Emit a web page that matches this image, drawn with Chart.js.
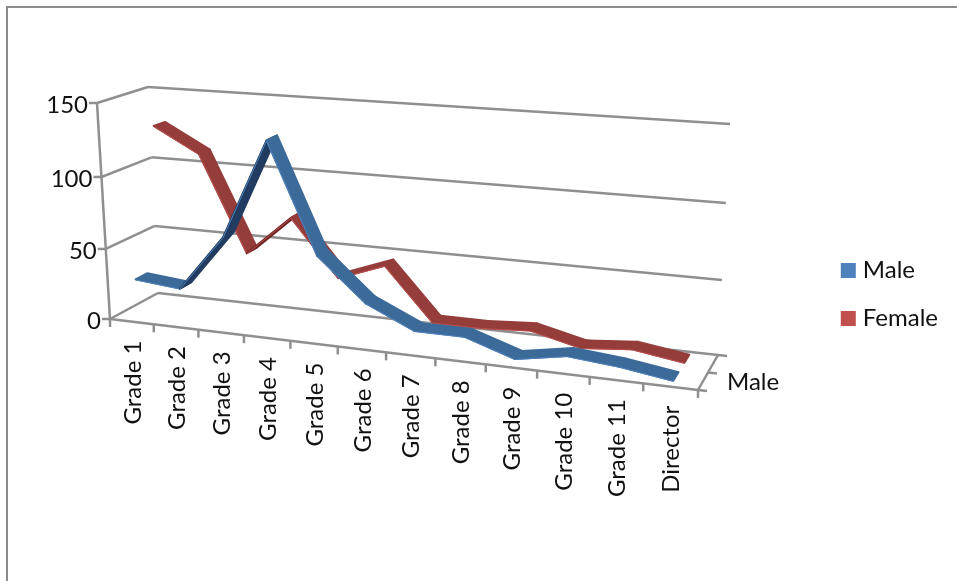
<!DOCTYPE html>
<html lang="en">

<head>
    <meta charset="UTF-8">
    <title>Staff by grade and gender</title>
    <script src="https://cdn.jsdelivr.net/npm/chart.js"></script>
    <style>
        html, body {
            margin: 0;
            background: #fff;
            overflow: hidden;
        }

        #frame {
            position: absolute;
            left: 6px;
            top: 6px;
            width: 957px;
            height: 581px;
            border-top: 2px solid #8c8c8c;
            border-left: 2px solid #8c8c8c;
        }

        canvas {
            position: absolute;
            left: 0;
            top: 0;
        }
    </style>
</head>

<body>
    <div id="frame"></div>
    <canvas id="gradeChart" width="957" height="581"></canvas>

    <script>
        const grades = ["Grade 1", "Grade 2", "Grade 3", "Grade 4", "Grade 5", "Grade 6", "Grade 7", "Grade 8",
            "Grade 9", "Grade 10", "Grade 11", "Director"];
        const maleCounts = [28, 25, 64, 132, 58, 29, 14, 14, 3, 9, 6, 1];
        const femaleCounts = [128, 111, 44, 72, 33, 45, 9, 9, 11, 3, 6, 1];
        const valueTicks = [0, 50, 100, 150];
        const depthLabel = "Male";

        const GREY = "#8f8f8f";
        const TEXT = "#111";
        const FONT = "24px Lato";

        // corners of the two upright planes of the 3D box: bottom-left, bottom-right, top-right, top-left
        const frontPlane = [[110, 319], [698, 390], [711, 148], [97, 103]];
        const backPlane = [[158, 293], [718, 355], [730, 124], [148, 87]];

        // how far along the depth axis each ribbon runs
        const ribbonDepth = [[0.125, 0.375], [0.65, 0.88]];
        const ribbonShades = [
            { top: "#3c6a99", under: "#213c60", edge: "#4f82bd" },
            { top: "#953d3b", under: "#6f2524", edge: "#bb4f4c" }
        ];

        function homography(q) {
            const [[x0, y0], [x1, y1], [x2, y2], [x3, y3]] = q;
            const dx1 = x1 - x2, dx2 = x3 - x2, sx = x0 - x1 + x2 - x3;
            const dy1 = y1 - y2, dy2 = y3 - y2, sy = y0 - y1 + y2 - y3;
            const den = dx1 * dy2 - dx2 * dy1;
            const g = (sx * dy2 - dx2 * sy) / den;
            const h = (dx1 * sy - sx * dy1) / den;
            const a = x1 - x0 + g * x1, b = x3 - x0 + h * x3;
            const d = y1 - y0 + g * y1, e = y3 - y0 + h * y3;
            return (u, v) => {
                const k = g * u + h * v + 1;
                return [(a * u + b * v + x0) / k, (d * u + e * v + y0) / k];
            };
        }

        const frontMap = homography(frontPlane);
        const backMap = homography(backPlane);

        function project(u, v, w) {
            const f = frontMap(u, v);
            const b = backMap(u, v);
            return [f[0] + (b[0] - f[0]) * w, f[1] + (b[1] - f[1]) * w];
        }

        // unit position of a category index / value on the chart's own scales
        function unitX(chart, index) {
            const area = chart.chartArea;
            return (chart.scales.x.getPixelForValue(index) - area.left) / area.width;
        }

        function unitY(chart, value) {
            const area = chart.chartArea;
            return (area.bottom - chart.scales.y.getPixelForValue(value)) / area.height;
        }

        function strokeLine(ctx, a, b) {
            ctx.beginPath();
            ctx.moveTo(a[0], a[1]);
            ctx.lineTo(b[0], b[1]);
            ctx.stroke();
        }

        const box3d = {
            id: "box3d",

            // move the line elements onto the middle of their ribbons
            afterDatasetsUpdate(chart) {
                chart.data.datasets.forEach((ds, i) => {
                    const [w0, w1] = ribbonDepth[i];
                    chart.getDatasetMeta(i).data.forEach((pt, j) => {
                        const p = project(unitX(chart, j), unitY(chart, ds.data[j]), (w0 + w1) / 2);
                        pt.x = p[0];
                        pt.y = p[1];
                    });
                });
            },

            beforeDatasetsDraw(chart) {
                const ctx = chart.ctx;
                const yScale = chart.scales.y;
                ctx.save();
                ctx.strokeStyle = GREY;
                ctx.lineWidth = 2.5;

                // walls
                yScale.ticks.forEach(t => {
                    const v = unitY(chart, t.value);
                    strokeLine(ctx, project(0, v, 0), project(0, v, 1));
                    strokeLine(ctx, project(0, v, 1), project(1, v, 1));
                    const p = project(0, v, 0);
                    strokeLine(ctx, [p[0] - 8, p[1]], p);
                });
                strokeLine(ctx, project(0, 0, 0), project(0, 1, 0));

                // floor edges
                strokeLine(ctx, project(0, 0, 0), project(1, 0, 0));
                strokeLine(ctx, project(1, 0, 0), project(1, 0, 1));

                // category ticks
                for (let i = 0; i <= grades.length; i++) {
                    const p = project(i / grades.length, 0, 0);
                    strokeLine(ctx, p, [p[0], p[1] + 8]);
                }

                // depth ticks
                [0, 0.5, 1].forEach(w => {
                    const p = project(1, 0, w);
                    strokeLine(ctx, p, [p[0] + 9, p[1] + 1]);
                });

                // value labels
                ctx.fillStyle = TEXT;
                ctx.font = FONT;
                ctx.textAlign = "right";
                ctx.textBaseline = "middle";
                yScale.ticks.forEach(t => {
                    const p = project(0, unitY(chart, t.value), 0);
                    ctx.fillText(t.label, p[0] - 9, p[1] + 2);
                });

                // depth label
                const d = project(1, 0, 0.5);
                ctx.textAlign = "left";
                ctx.fillText(depthLabel, d[0] + 19, d[1] + 10);

                // category labels, rotated
                ctx.textAlign = "right";
                grades.forEach((g, i) => {
                    const p = project(unitX(chart, i), 0, 0);
                    ctx.save();
                    ctx.translate(p[0] + 1, p[1] + 19);
                    ctx.rotate(-Math.PI / 2);
                    ctx.fillText(g, 0, 0);
                    ctx.restore();
                });
                ctx.restore();
            },

            // each series is a flat strip running along the depth axis
            beforeDatasetDraw(chart, args) {
                const ctx = chart.ctx;
                const i = args.index;
                const ds = chart.data.datasets[i];
                const [w0, w1] = ribbonDepth[i];
                const shade = ribbonShades[i];
                const near = ds.data.map((val, j) => project(unitX(chart, j), unitY(chart, val), w0));
                const far = ds.data.map((val, j) => project(unitX(chart, j), unitY(chart, val), w1));

                ctx.save();
                ctx.lineJoin = "round";
                for (let j = 0; j < near.length - 1; j++) {
                    const sx = near[j + 1][0] - near[j][0];
                    const sy = near[j + 1][1] - near[j][1];
                    const wx = far[j][0] - near[j][0];
                    const wy = far[j][1] - near[j][1];
                    const underside = sx * wy - sy * wx > 0;
                    const colour = underside ? shade.under : shade.top;

                    ctx.fillStyle = colour;
                    ctx.strokeStyle = colour;
                    ctx.lineWidth = 2;
                    ctx.beginPath();
                    ctx.moveTo(near[j][0], near[j][1]);
                    ctx.lineTo(near[j + 1][0], near[j + 1][1]);
                    ctx.lineTo(far[j + 1][0], far[j + 1][1]);
                    ctx.lineTo(far[j][0], far[j][1]);
                    ctx.closePath();
                    ctx.fill();
                    ctx.stroke();

                    // lit rim along the near edge
                    ctx.strokeStyle = shade.edge;
                    ctx.lineWidth = 1;
                    strokeLine(ctx, [near[j][0], near[j][1] + 0.5], [near[j + 1][0], near[j + 1][1] + 0.5]);
                }
                ctx.restore();
            }
        };

        new Chart(document.getElementById("gradeChart"), {
            type: "line",
            data: {
                labels: grades,
                datasets: [{
                    label: "Male",
                    data: maleCounts,
                    borderColor: "#4F81BD",
                    backgroundColor: "#4F81BD",
                    borderWidth: 0,
                    pointRadius: 0
                }, {
                    label: "Female",
                    data: femaleCounts,
                    borderColor: "#C0504D",
                    backgroundColor: "#C0504D",
                    borderWidth: 0,
                    pointRadius: 0
                }]
            },
            options: {
                responsive: false,
                animation: false,
                events: [],
                layout: {
                    padding: { top: 8, right: 9 }
                },
                scales: {
                    x: { type: "category", offset: true, display: false },
                    y: {
                        display: false,
                        min: 0,
                        max: 150,
                        afterBuildTicks: axis => {
                            axis.ticks = valueTicks.map(value => ({ value }));
                        },
                        ticks: { stepSize: 50 }
                    }
                },
                plugins: {
                    tooltip: { enabled: false },
                    legend: {
                        position: "right",
                        labels: {
                            usePointStyle: true,
                            pointStyle: "rect",
                            boxWidth: 5,
                            boxHeight: 15,
                            padding: 24,
                            color: TEXT,
                            font: { family: "Lato", size: 24 }
                        }
                    }
                }
            },
            plugins: [box3d]
        });
    </script>
</body>

</html>
